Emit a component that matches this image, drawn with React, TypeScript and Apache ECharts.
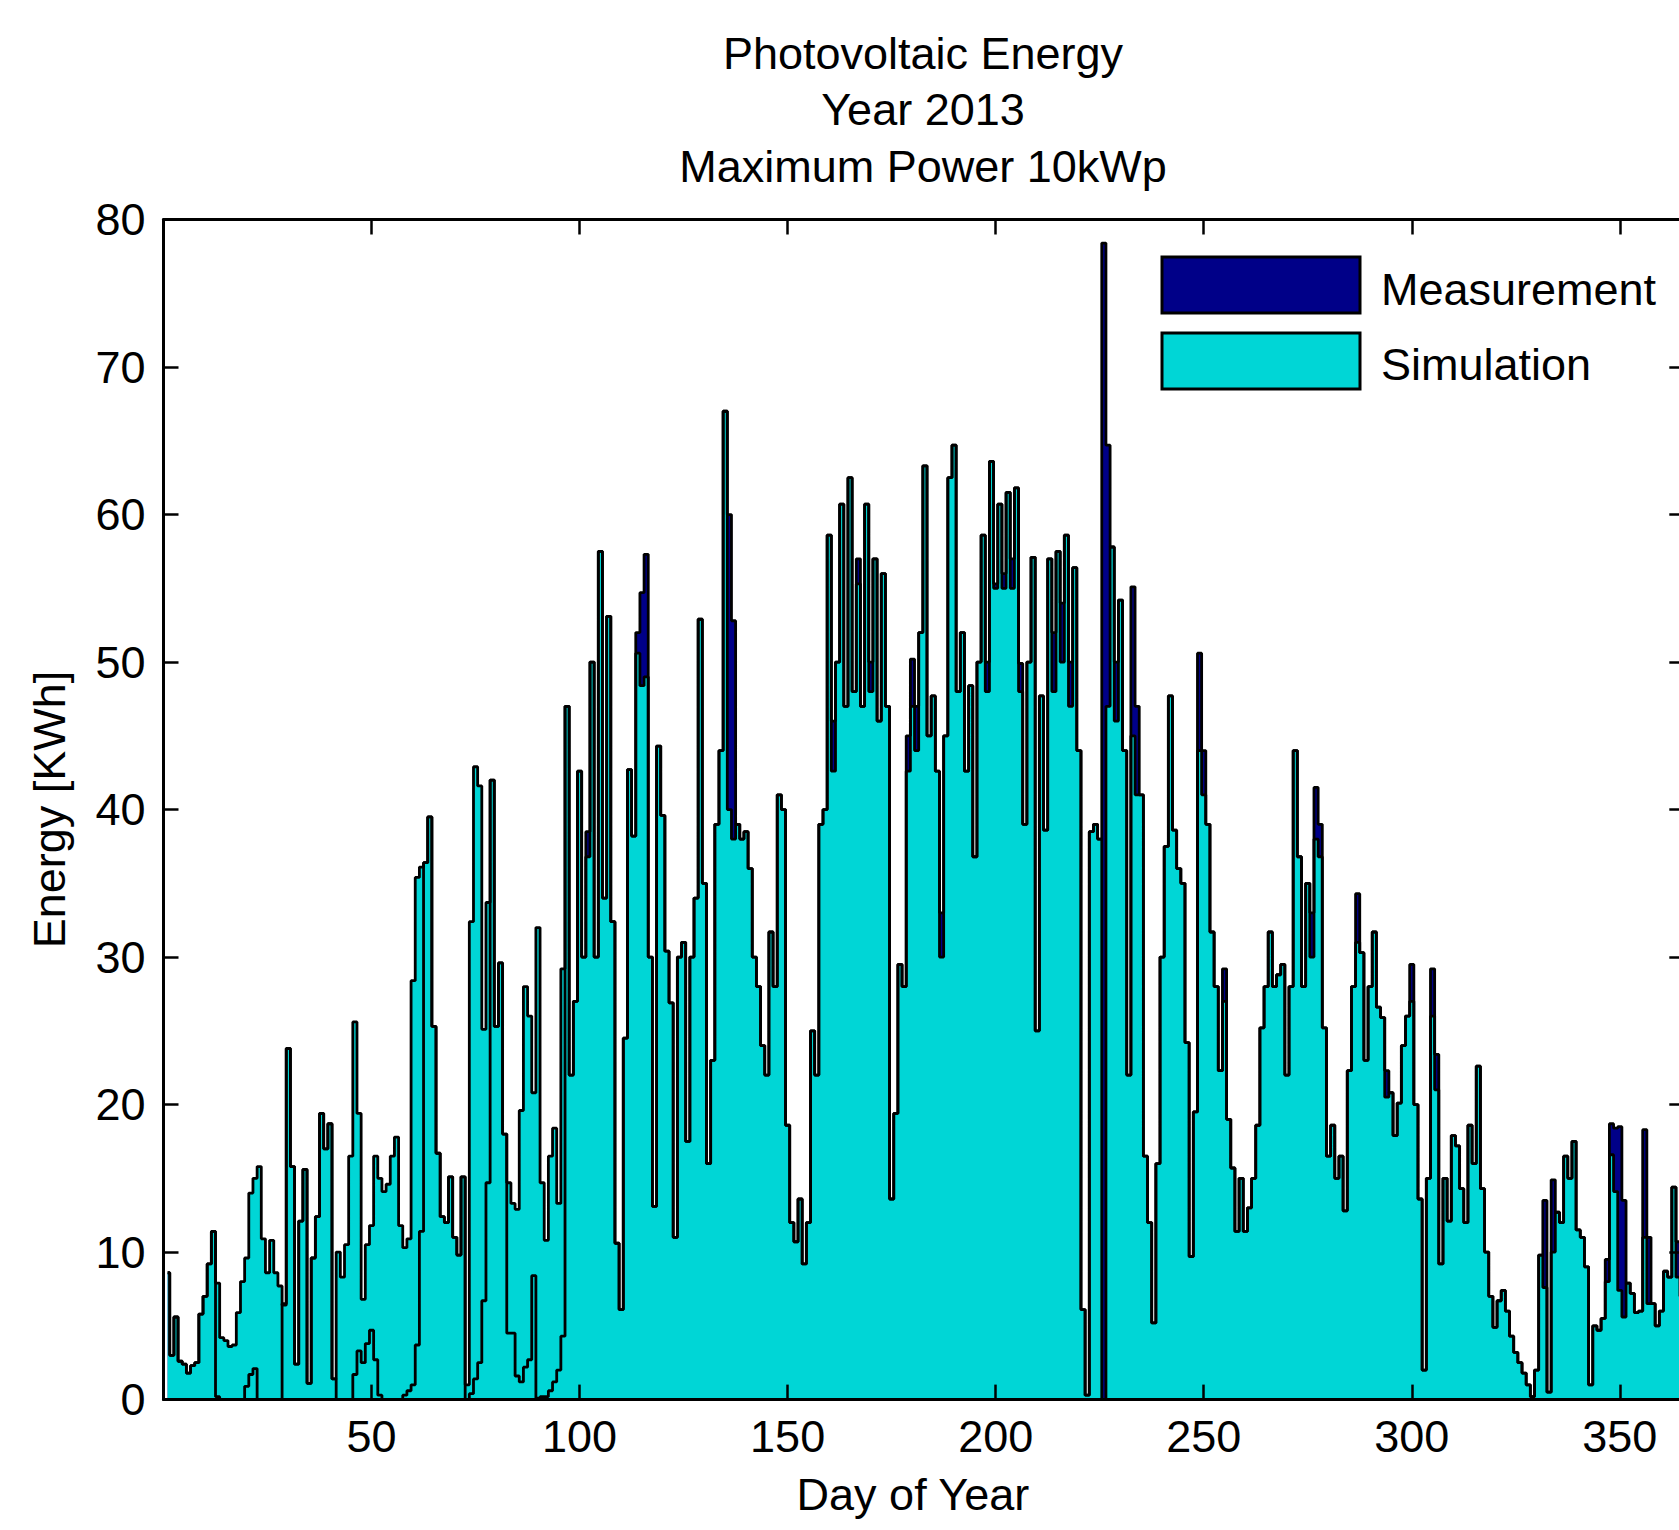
import React, { useEffect, useRef } from "react";
import * as echarts from "echarts";

const FONT = '"Liberation Sans", Arial, Helvetica, sans-serif';

const titleLines = ["Photovoltaic Energy", "Year 2013", "Maximum Power 10kWp"];
const seriesNames = ["Measurement", "Simulation"];
const xTickValues = [50, 100, 150, 200, 250, 300, 350];
const yTickLabels = ["0", "10", "20", "30", "40", "50", "60", "70", "80"];

// Day of year 1..365
const days = Array.from({ length: 365 }, (_, i) => i + 1);

// Simulated daily energy [kWh]
const simulation = [
  8.6, 3.0, 5.6, 2.6, 2.4, 1.8, 2.3, 2.5, 5.8, 7.0,
  9.2, 11.4, 7.9, 4.2, 4.0, 3.6, 3.7, 5.9, 8.0, 9.6,
  14.0, 15.0, 15.8, 10.9, 8.6, 10.8, 8.6, 7.7, 6.4, 23.8,
  15.8, 2.4, 12.1, 15.6, 1.1, 9.6, 12.4, 19.4, 17.0, 18.7,
  1.4, 10.0, 8.3, 10.5, 16.5, 25.6, 19.4, 6.8, 10.5, 11.8,
  16.5, 15.0, 14.1, 14.6, 16.5, 17.8, 11.8, 10.3, 10.9, 28.4,
  35.4, 36.1, 36.4, 39.5, 25.3, 16.7, 12.4, 12.0, 15.1, 11.0,
  9.8, 15.1, 1.0, 32.4, 42.9, 41.6, 25.1, 33.7, 42.0, 25.3,
  29.6, 18.0, 14.7, 13.3, 12.9, 19.6, 28.0, 26.0, 20.8, 32.0,
  14.7, 10.8, 16.5, 18.4, 13.3, 29.2, 47.0, 22.0, 27.0, 42.6,
  30.0, 36.8, 50.0, 30.0, 57.5, 34.0, 53.1, 32.4, 10.6, 6.1,
  24.5, 42.7, 38.2, 50.6, 48.4, 49.0, 30.0, 13.1, 44.3, 39.6,
  30.4, 26.9, 11.0, 30.0, 31.0, 17.5, 30.0, 34.0, 52.9, 35.0,
  16.0, 23.0, 39.0, 44.0, 67.0, 40.0, 38.0, 39.0, 38.0, 38.5,
  36.0, 30.0, 28.0, 24.0, 22.0, 31.7, 28.0, 41.0, 40.0, 18.6,
  12.0, 10.7, 13.6, 9.2, 12.0, 25.0, 22.0, 39.0, 40.0, 58.6,
  42.6, 50.0, 60.7, 47.0, 62.5, 48.0, 55.3, 47.0, 60.7, 48.0,
  57.0, 46.0, 56.0, 47.0, 13.6, 19.4, 29.5, 28.0, 42.6, 47.0,
  44.0, 52.0, 63.3, 45.0, 47.7, 42.6, 30.0, 45.0, 62.5, 64.7,
  48.0, 52.0, 42.6, 48.4, 36.8, 50.0, 58.6, 48.0, 63.6, 55.0,
  60.7, 55.0, 61.5, 55.0, 61.8, 48.0, 39.0, 50.0, 57.1, 25.0,
  47.7, 38.6, 57.0, 48.0, 57.5, 50.0, 58.6, 47.0, 56.4, 44.0,
  6.1, 0.3, 38.5, 39.0, 38.0, 0.0, 47.0, 57.8, 46.0, 54.2,
  44.0, 22.0, 45.0, 41.0, 41.0, 16.5, 12.0, 5.2, 16.0, 30.0,
  37.5, 47.7, 38.6, 36.0, 35.0, 24.2, 9.7, 19.5, 44.0, 41.0,
  39.0, 31.7, 28.0, 22.3, 27.0, 19.0, 15.7, 11.4, 15.0, 11.4,
  13.0, 15.0, 18.6, 25.2, 28.0, 31.7, 28.0, 28.8, 29.5, 22.0,
  28.0, 44.0, 36.8, 28.0, 35.0, 30.0, 38.0, 36.8, 25.2, 16.5,
  18.6, 15.0, 16.5, 12.8, 22.3, 28.0, 31.0, 30.3, 23.0, 28.0,
  31.7, 26.6, 25.9, 20.5, 20.8, 17.9, 20.1, 24.0, 26.0, 27.0,
  20.0, 13.6, 2.0, 15.0, 26.0, 21.0, 9.2, 15.0, 12.1, 17.9,
  17.2, 14.3, 12.0, 18.6, 16.0, 22.6, 14.3, 10.0, 7.0, 4.9,
  6.7, 7.4, 6.0, 4.3, 3.2, 2.5, 1.8, 1.0, 0.2, 2.0,
  9.8, 7.6, 0.5, 10.0, 12.7, 12.0, 16.5, 15.0, 17.5, 11.5,
  11.0, 9.0, 1.0, 5.0, 4.7, 5.5, 8.0, 16.6, 14.1, 7.4,
  5.6, 7.9, 7.2, 5.9, 6.0, 11.0, 6.5, 6.5, 5.0, 6.0,
  8.7, 8.3, 14.4, 8.3, 7.0,
];

// Measured daily energy [kWh]
const measurement = [
  8.6, 3.0, 5.6, 2.6, 2.4, 1.8, 2.3, 2.5, 5.8, 7.0,
  9.2, 11.4, 0.2, 0.0, 0.0, 0.0, 0.0, 0.0, 0.0, 0.9,
  1.7, 2.1, 0.0, 0.0, 0.0, 0.0, 0.0, 0.0, 6.5, 23.8,
  15.8, 2.4, 12.1, 15.6, 1.1, 9.6, 12.4, 19.4, 17.0, 18.7,
  1.4, 0.0, 0.0, 0.0, 0.0, 1.7, 3.3, 2.5, 3.8, 4.7,
  2.7, 0.3, 0.0, 0.0, 0.0, 0.0, 0.0, 0.3, 0.6, 1.0,
  3.7, 11.4, 36.4, 39.5, 25.3, 16.7, 12.4, 12.0, 15.1, 11.0,
  9.8, 15.1, 0.0, 0.4, 1.4, 2.5, 6.7, 14.7, 42.0, 25.3,
  29.6, 18.0, 4.5, 4.5, 1.6, 1.2, 2.2, 2.7, 8.4, 0.1,
  0.2, 0.2, 0.6, 1.2, 2.0, 4.3, 47.0, 22.0, 27.0, 42.6,
  30.0, 38.5, 50.0, 30.0, 57.5, 34.0, 53.1, 32.4, 10.6, 6.1,
  24.5, 42.7, 38.2, 52.0, 54.7, 57.3, 30.0, 13.1, 44.3, 39.6,
  30.4, 26.9, 11.0, 30.0, 31.0, 17.5, 30.0, 34.0, 52.9, 35.0,
  16.0, 23.0, 39.0, 44.0, 67.0, 60.0, 52.8, 39.0, 38.0, 38.5,
  36.0, 30.0, 28.0, 24.0, 22.0, 31.7, 28.0, 41.0, 40.0, 18.6,
  12.0, 10.7, 13.6, 9.2, 12.0, 25.0, 22.0, 39.0, 40.0, 58.6,
  46.0, 50.0, 60.7, 47.0, 62.5, 48.0, 57.0, 47.0, 60.7, 50.0,
  57.0, 46.0, 56.0, 47.0, 13.6, 19.4, 29.5, 28.0, 45.0, 50.2,
  47.0, 52.0, 63.3, 45.0, 47.7, 42.6, 33.0, 45.0, 62.5, 64.7,
  48.0, 52.0, 42.6, 48.4, 36.8, 50.0, 58.6, 50.0, 63.6, 55.3,
  60.7, 56.0, 61.5, 57.0, 61.8, 49.9, 39.0, 50.0, 57.1, 25.0,
  47.7, 38.6, 57.0, 52.0, 57.5, 54.0, 58.6, 50.0, 56.4, 44.0,
  6.1, 0.3, 38.5, 39.0, 38.0, 78.4, 64.7, 57.8, 50.0, 54.2,
  44.0, 22.0, 55.1, 47.0, 41.0, 16.5, 12.0, 5.2, 16.0, 30.0,
  37.5, 47.7, 38.6, 36.0, 35.0, 24.2, 9.7, 19.5, 50.6, 44.0,
  39.0, 31.7, 28.0, 22.3, 29.2, 19.0, 15.7, 11.4, 15.0, 11.4,
  13.0, 15.0, 18.6, 25.2, 28.0, 31.7, 28.0, 28.8, 29.5, 22.0,
  28.0, 44.0, 36.8, 28.0, 35.0, 33.0, 41.5, 39.0, 25.2, 16.5,
  18.6, 15.0, 16.5, 12.8, 22.3, 28.0, 34.3, 30.3, 23.0, 28.0,
  31.7, 26.6, 25.9, 22.3, 20.8, 17.9, 20.1, 24.0, 26.0, 29.5,
  20.0, 13.6, 2.0, 15.0, 29.2, 23.4, 9.2, 15.0, 12.1, 17.9,
  17.2, 14.3, 12.0, 18.6, 16.0, 22.6, 14.3, 10.0, 7.0, 4.9,
  6.7, 7.4, 6.0, 4.3, 3.2, 2.5, 1.8, 1.0, 0.2, 2.0,
  9.8, 13.5, 0.5, 14.9, 12.7, 12.0, 16.5, 15.0, 17.5, 11.5,
  11.0, 9.0, 1.0, 5.0, 4.7, 5.5, 9.5, 18.7, 18.4, 18.5,
  13.5, 7.9, 7.2, 5.9, 6.0, 18.3, 11.0, 6.5, 5.0, 6.0,
  8.7, 8.3, 14.4, 10.7, 7.0,
];

const NAVY = "#000088";
const CYAN = "#00D6D6";
const EDGE_WIDTH = 2.8;

export default function App() {
  const ref = useRef<HTMLDivElement>(null);

  useEffect(() => {
    if (!ref.current) return;
    const chart = echarts.init(ref.current, null, { renderer: "svg" });

    const measPairs = days.map((d, i) => [d, measurement[i]]);
    const simPairs = days.map((d, i) => [d, simulation[i]]);

    const axisLine = { show: true, onZero: false, lineStyle: { color: "#000", width: 3 } };
    const axisTick = { show: true, inside: true, length: 15, lineStyle: { color: "#000", width: 2.5 } };
    const labelStyle = { color: "#000", fontSize: 45, fontFamily: FONT };
    const xFormatter = (v: number) =>
      xTickValues.indexOf(Math.round(v * 1000) / 1000) >= 0 ? String(v) : "";

    const textStyle = (text: string, align: string) => ({
      text,
      fontSize: 45,
      fontFamily: FONT,
      fill: "#000",
      align,
      textAlign: align,
      verticalAlign: "middle",
      textVerticalAlign: "middle",
    });

    const option: any = {
      animation: false,
      backgroundColor: "#ffffff",
      grid: {
        left: 163.5,
        width: 1520.8,
        top: 219.5,
        height: 1180.1,
        containLabel: false,
        outerBoundsMode: "none",
      },
      xAxis: [
        {
          type: "value",
          position: "bottom",
          min: 0,
          max: 365.5,
          interval: 50,
          z: 10,
          axisLine,
          axisTick,
          splitLine: { show: false },
          axisLabel: { ...labelStyle, margin: 14, formatter: xFormatter },
          name: "Day of Year",
          nameLocation: "middle",
          nameGap: 72,
          nameTextStyle: { ...labelStyle, padding: [0, 22, 0, 0] },
        },
        {
          type: "value",
          position: "top",
          min: 0,
          max: 365.5,
          interval: 50,
          z: 10,
          axisLine,
          axisTick,
          splitLine: { show: false },
          axisLabel: { show: false },
        },
      ],
      yAxis: [
        {
          type: "value",
          position: "left",
          min: 0,
          max: 80,
          interval: 10,
          z: 10,
          axisLine,
          axisTick,
          splitLine: { show: false },
          axisLabel: {
            ...labelStyle,
            margin: 18,
            formatter: (v: number) => yTickLabels[Math.round(v / 10)] ?? "",
          },
          name: "Energy [KWh]",
          nameLocation: "middle",
          nameGap: 92,
          nameRotate: 90,
          nameTextStyle: { ...labelStyle },
        },
        {
          type: "value",
          position: "right",
          min: 0,
          max: 80,
          interval: 10,
          z: 10,
          axisLine,
          axisTick,
          splitLine: { show: false },
          axisLabel: { show: false },
        },
      ],
      series: [
        {
          type: "line",
          name: seriesNames[0],
          data: measPairs,
          step: "middle",
          symbol: "none",
          silent: true,
          z: 2,
          lineStyle: { width: 0, opacity: 0 },
          areaStyle: { color: NAVY, opacity: 1 },
        },
        {
          type: "line",
          name: seriesNames[1],
          data: simPairs,
          step: "middle",
          symbol: "none",
          silent: true,
          z: 3,
          lineStyle: { color: "#000", width: EDGE_WIDTH },
          areaStyle: { color: CYAN, opacity: 1 },
        },
        {
          type: "line",
          name: seriesNames[0] + " edge",
          data: measPairs,
          step: "middle",
          symbol: "none",
          silent: true,
          z: 4,
          lineStyle: { color: "#000", width: EDGE_WIDTH },
        },
      ],
      graphic: [
        { type: "text", x: 923, y: 53.5, style: textStyle(titleLines[0], "center") },
        { type: "text", x: 923, y: 109.5, style: textStyle(titleLines[1], "center") },
        { type: "text", x: 923, y: 166, style: textStyle(titleLines[2], "center") },
        {
          type: "rect",
          z: 20,
          shape: { x: 1162, y: 257, width: 198, height: 56 },
          style: { fill: NAVY, stroke: "#000", lineWidth: 3 },
        },
        {
          type: "rect",
          z: 20,
          shape: { x: 1162, y: 333, width: 198, height: 56 },
          style: { fill: CYAN, stroke: "#000", lineWidth: 3 },
        },
        { type: "text", z: 20, x: 1381, y: 289, style: textStyle(seriesNames[0], "left") },
        { type: "text", z: 20, x: 1381, y: 364, style: textStyle(seriesNames[1], "left") },
      ],
    };

    chart.setOption(option);
    return () => chart.dispose();
  }, []);

  return (
    <div
      ref={ref}
      style={{ position: "absolute", left: 0, top: 0, width: 1679, height: 1530, background: "#fff" }}
    />
  );
}
